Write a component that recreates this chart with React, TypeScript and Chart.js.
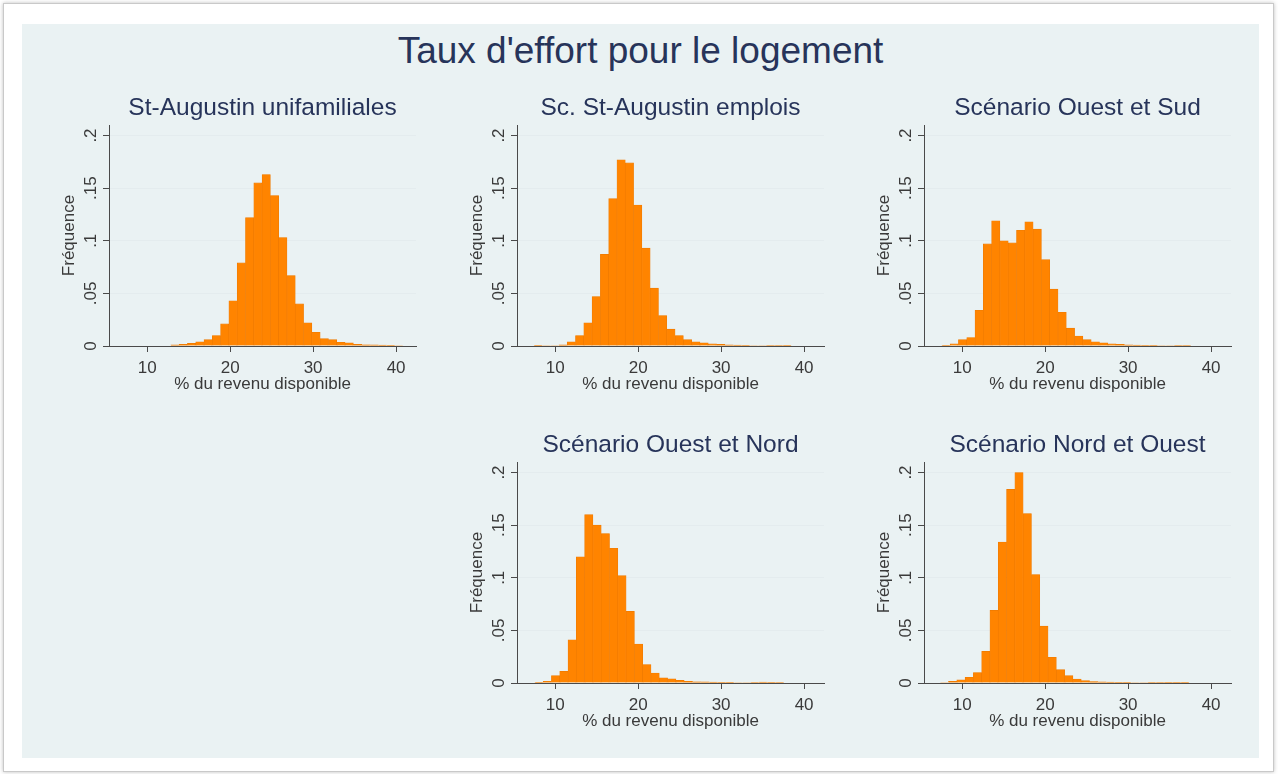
import { useEffect, useRef } from "react";
import { Chart, registerables } from "chart.js";

Chart.register(...registerables);

// ---- Texts ----
const pageTitle = "Taux d'effort pour le logement";
const xAxisTitle = "% du revenu disponible";
const yAxisTitle = "Fréquence";

// ---- Axis ticks ----
const xTickValues = [10, 20, 30, 40];
const yTickValues = [0, 0.05, 0.1, 0.15, 0.2];
const yTickLabels = ["0", ".05", ".1", ".15", ".2"];

// ---- Histograms: bin centres (% of disposable income) and frequencies ----
const binsUnifamiliales = [13.35, 14.35, 15.35, 16.35, 17.35, 18.35, 19.35, 20.35, 21.35, 22.35, 23.35, 24.35, 25.35, 26.35, 27.35, 28.35, 29.35, 30.35, 31.35, 32.35, 33.35, 34.35, 35.35, 36.35, 37.35, 38.35, 39.35, 40.35];
const freqUnifamiliales = [0.001, 0.0015, 0.0025, 0.004, 0.006, 0.010, 0.021, 0.043, 0.079, 0.122, 0.155, 0.163, 0.143, 0.103, 0.067, 0.040, 0.022, 0.013, 0.007, 0.006, 0.0035, 0.003, 0.0015, 0.0012, 0.001, 0.0008, 0.0006, 0.0005];

const binsEmplois = [7.95, 8.95, 9.95, 10.95, 11.95, 12.95, 13.95, 14.95, 15.95, 16.95, 17.95, 18.95, 19.95, 20.95, 21.95, 22.95, 23.95, 24.95, 25.95, 26.95, 27.95, 28.95, 29.95, 30.95, 31.95, 32.95, 33.95, 34.95, 35.95, 36.95, 37.95];
const freqEmplois = [0.0003, 0.0005, 0.0005, 0.001, 0.004, 0.010, 0.022, 0.047, 0.087, 0.140, 0.177, 0.174, 0.134, 0.093, 0.055, 0.029, 0.016, 0.010, 0.006, 0.004, 0.003, 0.002, 0.0015, 0.001, 0.0008, 0.0006, 0.0005, 0.0005, 0.0004, 0.0004, 0.0003];

const binsOuestSud = [8.05, 9.05, 10.05, 11.05, 12.05, 13.05, 14.05, 15.05, 16.05, 17.05, 18.05, 19.05, 20.05, 21.05, 22.05, 23.05, 24.05, 25.05, 26.05, 27.05, 28.05, 29.05, 30.05, 31.05, 32.05, 33.05, 34.05, 35.05, 36.05, 37.05];
const freqOuestSud = [0.0006, 0.002, 0.006, 0.008, 0.034, 0.097, 0.119, 0.100, 0.098, 0.110, 0.118, 0.111, 0.082, 0.054, 0.032, 0.017, 0.0095, 0.006, 0.004, 0.003, 0.002, 0.0015, 0.001, 0.0008, 0.0007, 0.0006, 0.0005, 0.0005, 0.0004, 0.0004];

const binsOuestNord = [8.05, 9.05, 10.05, 11.05, 12.05, 13.05, 14.05, 15.05, 16.05, 17.05, 18.05, 19.05, 20.05, 21.05, 22.05, 23.05, 24.05, 25.05, 26.05, 27.05, 28.05, 29.05, 30.05, 31.05, 32.05, 33.05, 34.05, 35.05, 36.05, 37.05];
const freqOuestNord = [0.0006, 0.0016, 0.007, 0.011, 0.041, 0.120, 0.160, 0.150, 0.142, 0.128, 0.102, 0.068, 0.037, 0.0175, 0.0095, 0.005, 0.004, 0.0025, 0.0016, 0.0012, 0.001, 0.0008, 0.0007, 0.0006, 0.0005, 0.0005, 0.0004, 0.0008, 0.0006, 0.0004];

const binsNordOuest = [7.85, 8.85, 9.85, 10.85, 11.85, 12.85, 13.85, 14.85, 15.85, 16.85, 17.85, 18.85, 19.85, 20.85, 21.85, 22.85, 23.85, 24.85, 25.85, 26.85, 27.85, 28.85, 29.85, 30.85, 31.85, 32.85, 33.85, 34.85, 35.85, 36.85];
const freqNordOuest = [0.0005, 0.0015, 0.003, 0.0055, 0.010, 0.030, 0.069, 0.134, 0.184, 0.200, 0.161, 0.103, 0.054, 0.0245, 0.0127, 0.007, 0.0038, 0.0022, 0.0013, 0.001, 0.0008, 0.0007, 0.0006, 0.0005, 0.0005, 0.0004, 0.0004, 0.0003, 0.0006, 0.0003];

// ---- Styling ----
const FONT = '"Liberation Sans", Arial, Helvetica, sans-serif';
const BG = "#EAF2F3";
const TITLE_COLOR = "#27345A";
const TEXT_COLOR = "#3A3A3A";
const AXIS_COLOR = "#4A4A4A";
const GRID_COLOR = "#E4ECEE";
const BAR_COLOR = "#FF8400";
const BAR_EDGE = "#EE7A00";

const X_MIN = 5.4;
const X_MAX = 42.4;
const Y_MIN = 0;
const Y_MAX = 0.21;

// plot-area geometry (page pixels) and the canvas margins around it
const PLOT_W = 307;
const PLOT_H = 221;
const LEFT_M = 50;
const RIGHT_M = 14;
const TOP_M = 35;
const BOTTOM_M = 54;

type PanelSpec = {
  title: string;
  bins: number[];
  freq: number[];
  left: number;
  top: number;
};

const panels: PanelSpec[] = [
  { title: "St-Augustin unifamiliales", bins: binsUnifamiliales, freq: freqUnifamiliales, left: 109, top: 125 },
  { title: "Sc. St-Augustin emplois", bins: binsEmplois, freq: freqEmplois, left: 517, top: 125 },
  { title: "Scénario Ouest et Sud", bins: binsOuestSud, freq: freqOuestSud, left: 924, top: 125 },
  { title: "Scénario Ouest et Nord", bins: binsOuestNord, freq: freqOuestNord, left: 517, top: 462 },
  { title: "Scénario Nord et Ouest", bins: binsNordOuest, freq: freqNordOuest, left: 924, top: 462 },
];

// Stata-style decorations: vertical y tick labels (reading bottom to top)
// and a panel title centred over the plot region
const stataDecor = {
  id: "stataDecor",
  afterDraw(chart: any, _args: any, opts: any) {
    const s = chart.scales.y;
    const area = chart.chartArea;
    const ctx = chart.ctx;
    ctx.save();
    ctx.fillStyle = TEXT_COLOR;
    ctx.font = `17px ${FONT}`;
    ctx.textAlign = "center";
    ctx.textBaseline = "middle";
    yTickValues.forEach((v, i) => {
      const py = s.getPixelForValue(v);
      ctx.save();
      ctx.translate(s.right - 18, py);
      ctx.rotate(-Math.PI / 2);
      ctx.fillText(yTickLabels[i], 0, 0);
      ctx.restore();
    });
    ctx.fillStyle = TITLE_COLOR;
    ctx.font = `24.5px ${FONT}`;
    ctx.fillText(opts.text, (area.left + area.right) / 2, area.top - 16.5);
    ctx.restore();
  },
};

function Histogram({ spec }: { spec: PanelSpec }) {
  const ref = useRef<HTMLCanvasElement | null>(null);
  const width = LEFT_M + PLOT_W + RIGHT_M;
  const height = TOP_M + PLOT_H + BOTTOM_M;

  useEffect(() => {
    if (!ref.current) return;
    const chart = new Chart(ref.current, {
      type: "bar",
      data: {
        datasets: [
          {
            data: spec.bins.map((x, i) => ({ x, y: spec.freq[i] })),
            backgroundColor: BAR_COLOR,
            borderColor: BAR_EDGE,
            borderWidth: 0.6,
            barPercentage: 1,
            categoryPercentage: 1,
          },
        ],
      },
      options: {
        responsive: false,
        animation: false,
        devicePixelRatio: 1,
        layout: { padding: { top: TOP_M, left: 0, right: RIGHT_M, bottom: 0 } },
        plugins: {
          legend: { display: false },
          tooltip: { enabled: false },
          title: { display: false },
          stataDecor: { text: spec.title },
        },
        scales: {
          x: {
            type: "linear",
            offset: false,
            min: X_MIN,
            max: X_MAX,
            afterBuildTicks: (s: any) => {
              s.ticks = xTickValues.map((v) => ({ value: v }));
            },
            afterFit: (s: any) => {
              s.height = BOTTOM_M;
            },
            grid: {
              offset: false,
              drawOnChartArea: false,
              drawTicks: true,
              tickLength: 6,
              color: AXIS_COLOR,
              lineWidth: 1,
            },
            border: { display: true, color: AXIS_COLOR, width: 1 },
            ticks: {
              padding: 6,
              autoSkip: false,
              maxRotation: 0,
              color: TEXT_COLOR,
              font: { family: FONT, size: 17 },
              callback: (v: any) => String(v),
            },
            title: {
              display: true,
              text: xAxisTitle,
              color: TEXT_COLOR,
              font: { family: FONT, size: 17 },
              padding: { top: 0, bottom: 5 },
            },
          },
          y: {
            type: "linear",
            min: Y_MIN,
            max: Y_MAX,
            afterBuildTicks: (s: any) => {
              s.ticks = yTickValues.map((v) => ({ value: v }));
            },
            afterFit: (s: any) => {
              s.width = LEFT_M;
            },
            grid: {
              drawOnChartArea: true,
              drawTicks: true,
              tickLength: 6,
              color: (c: any) => (c.tick && c.tick.value === 0 ? "rgba(0,0,0,0)" : GRID_COLOR),
              tickColor: AXIS_COLOR,
              lineWidth: 1,
            },
            border: { display: true, color: AXIS_COLOR, width: 1 },
            ticks: { display: false },
            title: {
              display: true,
              text: yAxisTitle,
              color: TEXT_COLOR,
              font: { family: FONT, size: 17 },
              padding: 0,
            },
          },
        },
      } as any,
      plugins: [stataDecor],
    });
    return () => chart.destroy();
  }, [spec]);

  return (
    <canvas
      ref={ref}
      width={width}
      height={height}
      style={{
        position: "absolute",
        left: spec.left - LEFT_M,
        top: spec.top - TOP_M,
        width,
        height,
        background: "transparent",
      }}
    />
  );
}

export default function App() {
  return (
    <div
      style={{
        position: "absolute",
        left: 0,
        top: 0,
        width: 1278,
        height: 774,
        background: "#FFFFFF",
        overflow: "hidden",
        fontFamily: FONT,
      }}
    >
      <div
        style={{
          position: "absolute",
          left: 3,
          top: 3,
          width: 1269,
          height: 767,
          border: "1px solid #C9C9C9",
          boxShadow: "0 0 4px rgba(0,0,0,0.25)",
          background: "#FFFFFF",
        }}
      />
      <div
        style={{
          position: "absolute",
          left: 22,
          top: 24,
          width: 1237,
          height: 734,
          background: BG,
        }}
      />
      <div
        style={{
          position: "absolute",
          left: 22,
          top: 32,
          width: 1237,
          textAlign: "center",
          fontSize: 37,
          lineHeight: "37px",
          color: TITLE_COLOR,
          whiteSpace: "nowrap",
        }}
      >
        {pageTitle}
      </div>
      {panels.map((p) => (
        <Histogram key={p.title} spec={p} />
      ))}
    </div>
  );
}
